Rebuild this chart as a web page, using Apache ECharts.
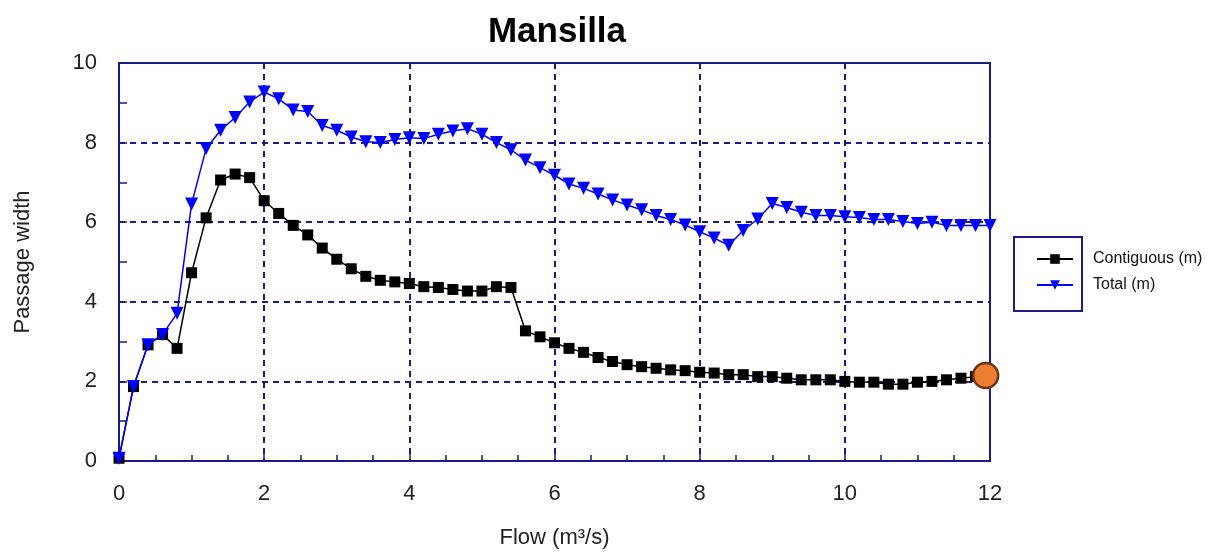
<!DOCTYPE html>
<html>
<head>
<meta charset="utf-8">
<script src="https://cdn.jsdelivr.net/npm/echarts@6/dist/echarts.min.js"></script>
<style>
  html, body { margin: 0; padding: 0; background: #ffffff; }
  #chart { width: 1211px; height: 554px; }
</style>
</head>
<body>
<div id="chart"></div>
<script>
// Flow steps (m³/s)
const flow = [
  0.0, 0.2, 0.4, 0.6, 0.8, 1.0, 1.2, 1.4, 1.6, 1.8, 2.0,
  2.2, 2.4, 2.6, 2.8, 3.0, 3.2, 3.4, 3.6, 3.8, 4.0,
  4.2, 4.4, 4.6, 4.8, 5.0, 5.2, 5.4, 5.6, 5.8, 6.0,
  6.2, 6.4, 6.6, 6.8, 7.0, 7.2, 7.4, 7.6, 7.8, 8.0,
  8.2, 8.4, 8.6, 8.8, 9.0, 9.2, 9.4, 9.6, 9.8, 10.0,
  10.2, 10.4, 10.6, 10.8, 11.0, 11.2, 11.4, 11.6, 11.8, 12.0
];

// Contiguous passage width (m)
const contiguous = [
  0.07, 1.87, 2.92, 3.18, 2.83, 4.73, 6.11, 7.06, 7.21, 7.12, 6.54,
  6.22, 5.92, 5.68, 5.35, 5.07, 4.83, 4.64, 4.54, 4.50, 4.46,
  4.38, 4.36, 4.31, 4.27, 4.27, 4.38, 4.36, 3.27, 3.12, 2.97,
  2.83, 2.73, 2.60, 2.50, 2.42, 2.37, 2.33, 2.29, 2.27, 2.23,
  2.21, 2.17, 2.17, 2.12, 2.12, 2.08, 2.04, 2.04, 2.04, 2.00,
  1.98, 1.98, 1.93, 1.93, 1.98, 2.00, 2.04, 2.08, 2.12, 2.15
];

// Total passage width (m)
const total = [
  0.07, 1.87, 2.92, 3.18, 3.71, 6.46, 7.85, 8.31, 8.63, 9.02, 9.27,
  9.10, 8.82, 8.78, 8.43, 8.31, 8.14, 8.02, 8.00, 8.08, 8.12,
  8.10, 8.21, 8.29, 8.35, 8.21, 8.00, 7.82, 7.56, 7.37, 7.18,
  6.96, 6.85, 6.71, 6.56, 6.43, 6.31, 6.17, 6.07, 5.93, 5.76,
  5.60, 5.42, 5.79, 6.08, 6.47, 6.37, 6.25, 6.17, 6.17, 6.14,
  6.12, 6.07, 6.07, 6.02, 5.97, 6.00, 5.92, 5.92, 5.92, 5.92
];

// Highlighted operating point
const highlightFlow = [11.94];
const highlightWidth = [2.15];

const xTicks = [0, 2, 4, 6, 8, 10, 12];
const yTicks = [0, 2, 4, 6, 8, 10];

const NAVY = '#1a1a8a';
const FONT = 'Liberation Sans, Arial, sans-serif';

const pair = (xs, ys) => xs.map((x, i) => [x, ys[i]]);

const chart = echarts.init(document.getElementById('chart'), null, { renderer: 'canvas' });

chart.setOption({
  animation: false,
  backgroundColor: '#ffffff',
  title: {
    text: 'Mansilla',
    left: 552,
    textAlign: 'center',
    top: 10,
    textStyle: { fontFamily: FONT, fontWeight: 'bold', fontSize: 35, color: '#000000' }
  },
  grid: {
    left: 119, right: 221, top: 63, bottom: 91,
    show: true, borderColor: NAVY, borderWidth: 2, backgroundColor: 'transparent'
  },
  legend: {
    orient: 'vertical',
    left: 1031,
    top: 246,
    itemWidth: 36,
    itemHeight: 12,
    itemGap: 10,
    textStyle: { fontFamily: FONT, fontSize: 16, color: '#111111', padding: [0, 0, 0, 15] },
    data: ['Contiguous (m)', 'Total (m)']
  },
  graphic: [{
    type: 'rect',
    left: 1013, top: 236,
    shape: { width: 68, height: 74 },
    style: { fill: 'transparent', stroke: NAVY, lineWidth: 2 },
    z: 0
  }],
  xAxis: {
    type: 'value',
    min: xTicks[0], max: xTicks[xTicks.length - 1], interval: 2,
    name: 'Flow (m³/s)',
    nameLocation: 'middle',
    nameGap: 66,
    nameTextStyle: { fontFamily: FONT, fontSize: 22, color: '#222222' },
    axisLine: { show: true, lineStyle: { color: NAVY, width: 2 } },
    axisTick: { show: true, inside: true, length: 9, lineStyle: { color: NAVY, width: 1.5 } },
    minorTick: { show: true, splitNumber: 4, length: 6, lineStyle: { color: NAVY, width: 1.5 } },
    axisLabel: { fontFamily: FONT, fontSize: 22, color: '#222222', margin: 22 },
    splitLine: { show: true, lineStyle: { color: NAVY, width: 2, type: [6, 5] } }
  },
  yAxis: {
    type: 'value',
    min: yTicks[0], max: yTicks[yTicks.length - 1], interval: 2,
    name: 'Passage width',
    nameLocation: 'middle',
    nameGap: 85,
    nameTextStyle: { fontFamily: FONT, fontSize: 22, color: '#222222' },
    axisLine: { show: true, lineStyle: { color: NAVY, width: 2 } },
    axisTick: { show: true, inside: true, length: 8, lineStyle: { color: NAVY, width: 1.5 } },
    minorTick: { show: true, splitNumber: 2, length: 8, lineStyle: { color: NAVY, width: 1.5 } },
    axisLabel: { fontFamily: FONT, fontSize: 22, color: '#222222', margin: 22 },
    splitLine: { show: true, lineStyle: { color: NAVY, width: 2, type: [6, 5] } }
  },
  series: [
    {
      name: 'Contiguous (m)',
      type: 'line',
      data: pair(flow, contiguous),
      symbol: 'rect',
      symbolSize: 11,
      itemStyle: { color: '#000000' },
      lineStyle: { color: '#000000', width: 1.5 },
      z: 2
    },
    {
      name: 'Total (m)',
      type: 'line',
      data: pair(flow, total),
      symbol: 'triangle',
      symbolRotate: 180,
      symbolSize: 13,
      itemStyle: { color: '#0000ff' },
      lineStyle: { color: '#0000ff', width: 1.5 },
      z: 3
    },
    {
      name: 'highlight',
      type: 'scatter',
      data: pair(highlightFlow, highlightWidth),
      symbol: 'circle',
      symbolSize: 25,
      itemStyle: { color: '#ed7d31', borderColor: '#6e3510', borderWidth: 2.5, opacity: 1 },
      z: 10
    }
  ]
});
</script>
</body>
</html>
